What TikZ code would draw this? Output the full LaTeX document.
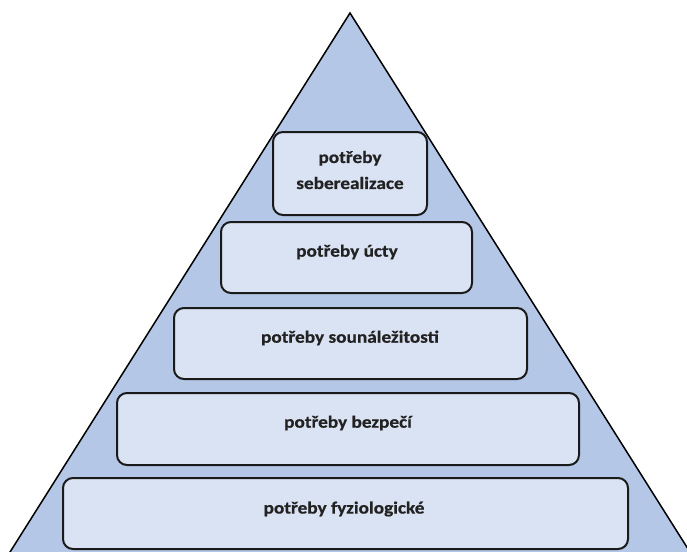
\documentclass[tikz,border=0pt]{standalone}
\usepackage{fontspec}
\setmainfont{Carlito}[FakeStretch=1.12, BoldFeatures={FakeBold=0.6}]
\definecolor{pyr}{HTML}{B4C7E7}
\definecolor{boxf}{HTML}{DAE3F3}
\definecolor{edge}{HTML}{1A1A1A}
\definecolor{txt}{HTML}{222222}
\begin{document}
\begin{tikzpicture}[x=1pt,y=-1pt,
  level/.style={draw=edge, line width=2pt, fill=boxf, rounded corners=10pt},
  lbl/.style={font=\fontsize{17.2}{26}\selectfont\bfseries, text=txt, align=center, inner sep=0pt}]
\useasboundingbox (0,0) rectangle (687,551);
\begin{scope}
\clip (0,0) rectangle (687,551);
\draw[fill=pyr, line width=1.5pt, line join=miter] (350,13) -- (695,560) -- (5,560) -- cycle;
\end{scope}
\draw[level] (273,132) rectangle (427,215);
\draw[level] (221,222) rectangle (472,293);
\draw[level] (174,308) rectangle (527,379);
\draw[level] (117,393) rectangle (579,465);
\draw[level] (63,478) rectangle (628,549);
\node[lbl] (n1) at (350,170) {potřeby\\seberealizace};
\node[lbl] (n2) at (347,252) {potřeby úcty};
\node[lbl] (n3) at (350,338) {potřeby sounáležitosti};
\node[lbl] (n4) at (348,423) {potřeby bezpečí};
\node[lbl] (n5) at (344,509) {potřeby fyziologické};
\end{tikzpicture}
\end{document}
